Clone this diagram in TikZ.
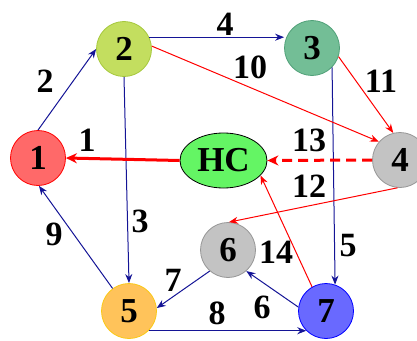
\documentclass[tikz,border=0pt]{standalone}
\usepackage{fontspec}
\newfontfamily\tnr{Liberation Serif}[BoldFont={Liberation Serif Bold}]
\usetikzlibrary{arrows.meta,shapes.geometric}
\definecolor{navy}{RGB}{20,20,150}
\definecolor{fA}{RGB}{255,105,105}
\definecolor{fB}{RGB}{195,222,95}
\definecolor{dB}{RGB}{165,200,60}
\definecolor{fC}{RGB}{115,190,150}
\definecolor{dC}{RGB}{80,160,120}
\definecolor{fG}{RGB}{195,195,195}
\definecolor{dG}{RGB}{150,150,150}
\definecolor{fE}{RGB}{255,195,90}
\definecolor{dE}{RGB}{250,200,20}
\definecolor{fF}{RGB}{105,105,255}
\definecolor{fH}{RGB}{100,245,100}
\tikzset{
  vtx/.style={circle, minimum size=55pt, inner sep=0pt, line width=0.8pt, font=\tnr\fontsize{35}{35}\selectfont\bfseries},
  lab/.style={font=\tnr\fontsize{34}{34}\selectfont\bfseries, inner sep=0pt},
  bl/.style={draw=navy, line width=1pt, -{Stealth[length=9pt,width=7pt]}},
  rd/.style={draw=red, line width=1pt, -{Stealth[length=9pt,width=7pt]}},
  rdthick/.style={draw=red, line width=3pt, -{Stealth[length=11pt,width=10pt]}},
}
\begin{document}
\begin{tikzpicture}[x=1pt,y=-1pt]
\useasboundingbox (0,0) rectangle (417,340);
\node[vtx, fill=fA, draw=red] (n1) at (38,158) {1};
\node[vtx, fill=fB, draw=dB] (n2) at (124,49) {2};
\node[vtx, fill=fC, draw=dC] (n3) at (312,48) {3};
\node[vtx, fill=fG, draw=dG] (n4) at (400,160) {4};
\node[vtx, fill=fE, draw=dE] (n5) at (129,311) {5};
\node[vtx, fill=fG, draw=dG] (n6) at (228,250) {6};
\node[vtx, fill=fF, draw=blue] (n7) at (326,311) {7};
\node[ellipse, minimum width=87pt, minimum height=55pt, inner sep=0pt, fill=fH, draw=black, line width=0.8pt, font=\tnr\fontsize{35}{35}\selectfont\bfseries] (hc) at (223.5,160.5) {HC};

\draw[bl] (n1.north) -- (n2.west);
\draw[bl] (n2.25) -- (n2.25 -| n3.west);
\draw[bl] (n2.south) -- (n5.north);
\draw[bl] (n3.-44) -- (n7.71);
\draw[bl] (n6.-131) -- (n5.6);
\draw[bl] (n5.126) -- (n1.-88);
\draw[bl] (n5.-45) -- (n7.-135);
\draw[bl] (n7.172) -- (n6.-49);
\draw[rd] (n2.6) -- (n4.139);
\draw[rd] (n3.-18) -- (n4.104);
\draw[rd] (n4.-95) -- (n6.88);
\draw[rd] (n7.120) -- (hc.-22);
\draw[rdthick] (hc.west) -- (n1.east);
\draw[rdthick, dash pattern=on 10pt off 6pt] (n4.west) -- (hc.east);

\node[lab] (l2) at (45,81) {2};
\node[lab] (l1) at (87,140) {1};
\node[lab] (l4) at (225,24) {4};
\node[lab] (l10) at (250,67) {10};
\node[lab] (l11) at (381,81) {11};
\node[lab] (l13) at (309,140) {13};
\node[lab] (l12) at (309,186) {12};
\node[lab] (l14) at (276,252) {14};
\node[lab] (l5) at (348,246) {5};
\node[lab] (l6) at (262,307) {6};
\node[lab] (l8) at (217,313) {8};
\node[lab] (l3) at (140,221) {3};
\node[lab] (l9) at (54,234) {9};
\node[lab] (l7) at (173,280) {7};
\end{tikzpicture}
\end{document}
